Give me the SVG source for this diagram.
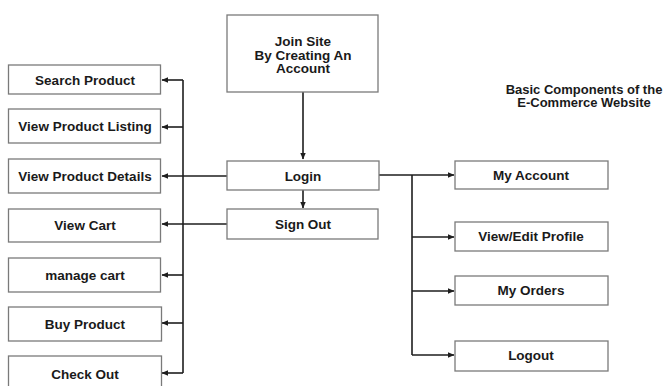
<svg xmlns="http://www.w3.org/2000/svg" width="663" height="386" viewBox="0 0 663 386">
<style>
.box{fill:#fff;stroke:#7a7a7a;stroke-width:1.3}
.t{font-family:"Liberation Sans",Arial,sans-serif;font-weight:bold;font-size:13.5px;fill:#1a1a1a;text-anchor:middle}
.c{fill:none;stroke:#1e1e1e;stroke-width:1.6}
</style>
<defs>
<marker id="ah" markerWidth="7" markerHeight="7" refX="6" refY="3.5" orient="auto" markerUnits="userSpaceOnUse">
<path d="M0,0.8 L6.5,3.5 L0,6.2 Z" fill="#1e1e1e"/>
</marker>
</defs>
<rect width="663" height="386" fill="#fff"/>
<g id="connectors">
<path class="c" d="M303,92 V159" marker-end="url(#ah)"/>
<path class="c" d="M303,190 V208" marker-end="url(#ah)"/>
<path class="c" d="M227,176 H162" marker-end="url(#ah)"/>
<path class="c" d="M227,224 H162" marker-end="url(#ah)"/>
<path class="c" d="M183,80 V373"/>
<path class="c" d="M183,80 H162" marker-end="url(#ah)"/>
<path class="c" d="M183,127 H162" marker-end="url(#ah)"/>
<path class="c" d="M183,275 H162" marker-end="url(#ah)"/>
<path class="c" d="M183,323 H162" marker-end="url(#ah)"/>
<path class="c" d="M183,373 H162" marker-end="url(#ah)"/>
<path class="c" d="M379,175 H454" marker-end="url(#ah)"/>
<path class="c" d="M412,175 V355"/>
<path class="c" d="M412,237 H454" marker-end="url(#ah)"/>
<path class="c" d="M412,291 H454" marker-end="url(#ah)"/>
<path class="c" d="M412,355 H454" marker-end="url(#ah)"/>
</g>
<g id="join"><rect class="box" x="227" y="15" width="151" height="77"/>
<text class="t" x="303" y="46">Join Site</text>
<text class="t" x="303" y="60">By Creating An</text>
<text class="t" x="303" y="73">Account</text></g>
<g id="login"><rect class="box" x="227" y="161" width="152" height="29"/><text class="t" x="303" y="181">Login</text></g>
<g id="signout"><rect class="box" x="227" y="209" width="151" height="30"/><text class="t" x="303" y="229">Sign Out</text></g>
<g id="search"><rect class="box" x="8.5" y="65" width="152" height="29"/><text class="t" x="85" y="85">Search Product</text></g>
<g id="listing"><rect class="box" x="8.5" y="109" width="152" height="34"/><text class="t" x="85" y="131">View Product Listing</text></g>
<g id="details"><rect class="box" x="8.5" y="159" width="152" height="34"/><text class="t" x="85" y="181">View Product Details</text></g>
<g id="cart"><rect class="box" x="8.5" y="209" width="152" height="33"/><text class="t" x="85" y="230">View Cart</text></g>
<g id="manage"><rect class="box" x="8.5" y="258" width="152" height="34"/><text class="t" x="85" y="280">manage cart</text></g>
<g id="buy"><rect class="box" x="8.5" y="307" width="153" height="34"/><text class="t" x="85" y="329">Buy Product</text></g>
<g id="checkout"><rect class="box" x="8.5" y="356" width="153" height="36"/><text class="t" x="85" y="379">Check Out</text></g>
<g id="myaccount"><rect class="box" x="455" y="161" width="153" height="28"/><text class="t" x="531" y="180">My Account</text></g>
<g id="profile"><rect class="box" x="455" y="222" width="153" height="29"/><text class="t" x="531" y="241">View/Edit Profile</text></g>
<g id="orders"><rect class="box" x="455" y="276" width="153" height="29"/><text class="t" x="531" y="295">My Orders</text></g>
<g id="logout"><rect class="box" x="455" y="341" width="153" height="30"/><text class="t" x="531" y="360">Logout</text></g>
<g id="title">
<text class="t" x="584" y="94" style="font-size:13px">Basic Components of the</text>
<text class="t" x="584" y="107" style="font-size:13px">E-Commerce Website</text>
</g>
</svg>
